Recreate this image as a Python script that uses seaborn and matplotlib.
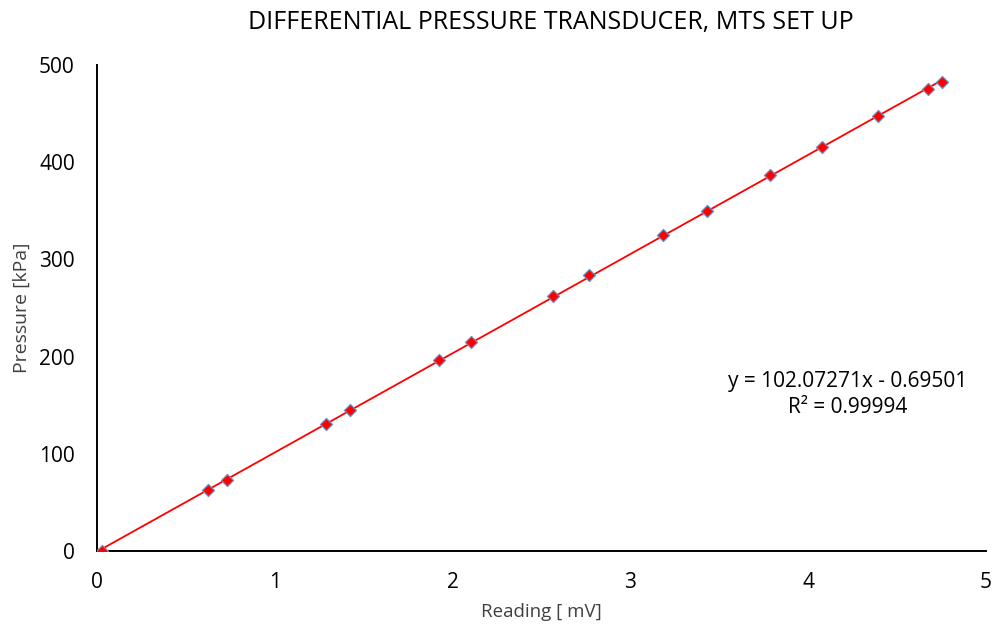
import numpy as np
import pandas as pd
import matplotlib
matplotlib.use("Agg")
import matplotlib.pyplot as plt
import seaborn as sns

# Calibration readings
reading_mv = [0.03, 0.624, 0.731, 1.288, 1.423, 1.924, 2.104, 2.565, 2.767,
              3.183, 3.43, 3.785, 4.078, 4.393, 4.674, 4.753]
pressure_kpa = [0.0, 62.9, 73.2, 130.9, 145.4, 196.9, 215.5, 261.9, 283.5,
                324.7, 349.5, 386.6, 415.5, 447.4, 475.3, 482.5]

slope = 102.07271
intercept = -0.69501
r_squared = 0.99994

x_ticks = [0, 1, 2, 3, 4, 5]
y_ticks = [0, 100, 200, 300, 400, 500]

df = pd.DataFrame({"reading": reading_mv, "pressure": pressure_kpa})

sns.set_theme(style="white")
plt.rcParams["font.family"] = ["Open Sans", "DejaVu Sans"]

fig = plt.figure(figsize=(9.92, 6.28), dpi=100)
ax = fig.add_axes([97 / 992, 1 - 551 / 628, (986 - 97) / 992, (551 - 65) / 628])

# Linear trendline across the measured range
xfit = np.array([min(reading_mv), max(reading_mv)])
ax.plot(xfit, slope * xfit + intercept, color="#FF0000", lw=1.3, zorder=2)

sns.scatterplot(data=df, x="reading", y="pressure", marker="D", s=38,
                color="#FF0000", edgecolor="#6E8FC0", linewidth=0.9,
                ax=ax, zorder=3, legend=False)

ax.set_xlim(0, 5)
ax.set_ylim(0, 500)
ax.set_xticks(x_ticks)
ax.set_yticks(y_ticks)
ax.tick_params(axis="both", direction="in", length=5, width=1.3,
               colors="black", labelsize=15)
ax.tick_params(axis="x", pad=15)
ax.tick_params(axis="y", pad=16)
for side in ["top", "right"]:
    ax.spines[side].set_visible(False)
for side in ["left", "bottom"]:
    ax.spines[side].set_color("black")
    ax.spines[side].set_linewidth(1.4)

ax.set_xlabel("Reading [ mV]", fontsize=13.5, color="#404040", labelpad=7)
ax.set_ylabel("Pressure [kPa]", fontsize=14, color="#404040", labelpad=6)
fig.text(551 / 992, 1 - 23 / 628, "DIFFERENTIAL PRESSURE TRANSDUCER, MTS SET UP",
         ha="center", va="center", fontsize=18, color="black")

ax.text(4.224, 161, f"y = {slope:.5f}x - {abs(intercept):.5f}\nR\u00b2 = {r_squared:.5f}",
        ha="center", va="center", fontsize=15, color="black", linespacing=1.35)

fig.savefig("out.png", dpi=100)
